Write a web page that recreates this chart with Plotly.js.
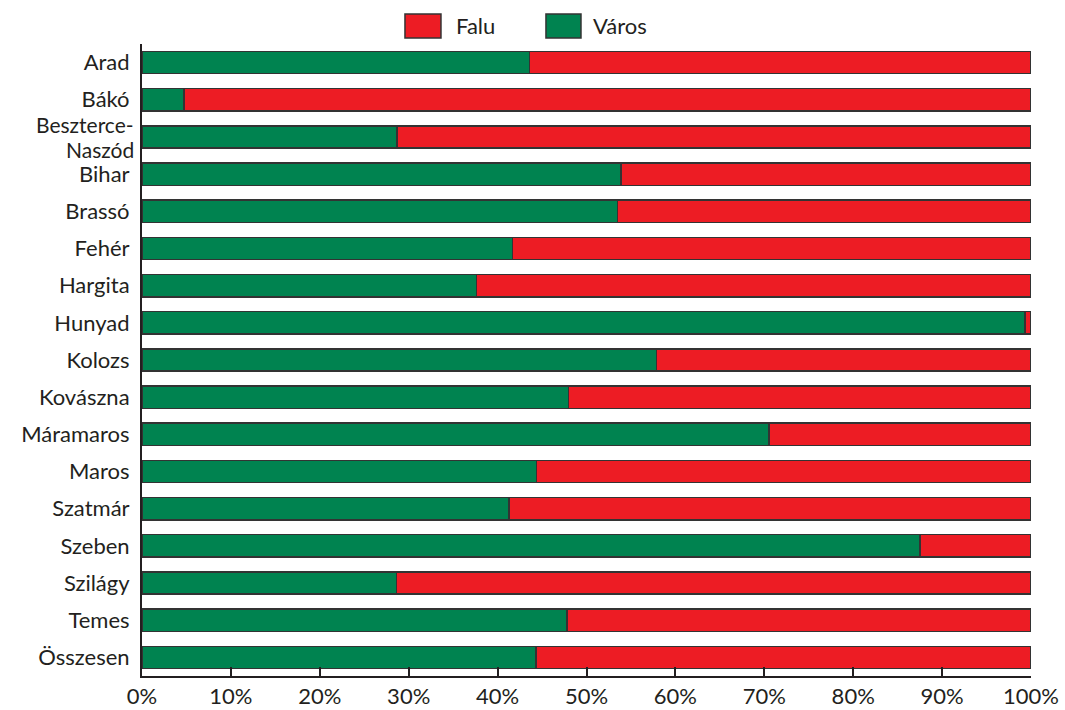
<!DOCTYPE html>
<html>
<head>
<meta charset="utf-8">
<script src="https://cdn.plot.ly/plotly-3.0.1.min.js"></script>
<style>html,body{margin:0;padding:0;background:#fff;}#chart{width:1065px;height:710px;}</style>
</head>
<body>
<div id="chart"></div>
<script>
const categories = ["Arad","Bákó","Beszterce-Naszód","Bihar","Brassó","Fehér","Hargita","Hunyad","Kolozs","Kovászna","Máramaros","Maros","Szatmár","Szeben","Szilágy","Temes","Összesen"];
const categoryLabels = ["Arad","Bákó","","Bihar","Brassó","Fehér","Hargita","Hunyad","Kolozs","Kovászna","Máramaros","Maros","Szatmár","Szeben","Szilágy","Temes","Összesen"];
const wrappedLabelLines = ["Beszterce-","Naszód"];
const varos = [43.6, 4.7, 28.7, 53.9, 53.5, 41.7, 37.6, 99.3, 57.9, 48.0, 70.5, 44.4, 41.3, 87.5, 28.6, 47.8, 44.3];
const falu  = [56.4, 95.3, 71.3, 46.1, 46.5, 58.3, 62.4, 0.7, 42.1, 52.0, 29.5, 55.6, 58.7, 12.5, 71.4, 52.2, 55.7];
const tickVals = [0,10,20,30,40,50,60,70,80,90,100];
const tickText = ["0%","10%","20%","30%","40%","50%","60%","70%","80%","90%","100%"];

const GREEN = "#008350", RED = "#ED1C24", EDGE = "#333333", INK = "#231f20";
const FONT = "Lato, Open Sans, DejaVu Sans, sans-serif";

const traces = [
  {type:"bar", orientation:"h", name:"Város", y:categories, x:varos,
   marker:{color:GREEN, line:{color:EDGE, width:1.5}}, hoverinfo:"x+y"},
  {type:"bar", orientation:"h", name:"Falu", y:categories, x:falu,
   marker:{color:RED, line:{color:EDGE, width:1.5}}, hoverinfo:"x+y"}
];

const annotations = [
  {xref:"paper", yref:"paper", x:0.3510, y:1.0285, xanchor:"left", yanchor:"middle", text:"Falu", showarrow:false, font:{family:FONT, size:22, color:INK}},
  {xref:"paper", yref:"paper", x:0.5050, y:1.0285, xanchor:"left", yanchor:"middle", text:"Város", showarrow:false, font:{family:FONT, size:22, color:INK}},
  {xref:"paper", yref:"y", x:0, y:categories[2], xanchor:"right", yanchor:"middle", xshift:-6, yshift:12.5, text:wrappedLabelLines[0], showarrow:false, font:{family:FONT, size:21, color:INK}},
  {xref:"paper", yref:"y", x:0, y:categories[2], xanchor:"right", yanchor:"middle", xshift:-6, yshift:-12.5, text:wrappedLabelLines[1], showarrow:false, font:{family:FONT, size:21, color:INK}}
];

const layout = {
  width:1065, height:710,
  margin:{l:142, r:34, t:44, b:34},
  barmode:"stack", bargap:0.4,
  showlegend:false,
  paper_bgcolor:"#fff", plot_bgcolor:"#fff",
  font:{family:FONT, size:22, color:INK},
  xaxis:{range:[0,100], tickvals:tickVals, ticktext:tickText, ticks:"inside", ticklen:9, tickwidth:2, tickcolor:INK,
         showgrid:false, zeroline:false, showline:true, linecolor:INK, linewidth:2, mirror:false,
         tickfont:{family:FONT, size:22, color:INK}, fixedrange:true},
  yaxis:{type:"category", autorange:"reversed", tickvals:categories, ticktext:categoryLabels, ticks:"", showgrid:false, zeroline:false, showline:true,
         linecolor:INK, linewidth:2, ticklabelstandoff:6,
         tickfont:{family:FONT, size:22, color:INK}, fixedrange:true},
  shapes:[
    {type:"rect", xref:"paper", yref:"paper", x0:0.2958, x1:0.3363, y0:1.0095, y1:1.0475, fillcolor:RED, line:{color:EDGE, width:1.5}},
    {type:"rect", xref:"paper", yref:"paper", x0:0.4544, x1:0.4938, y0:1.0095, y1:1.0475, fillcolor:GREEN, line:{color:EDGE, width:1.5}}
  ],
  annotations:annotations
};

Plotly.newPlot("chart", traces, layout, {displayModeBar:false, staticPlot:true});
</script>
</body>
</html>
